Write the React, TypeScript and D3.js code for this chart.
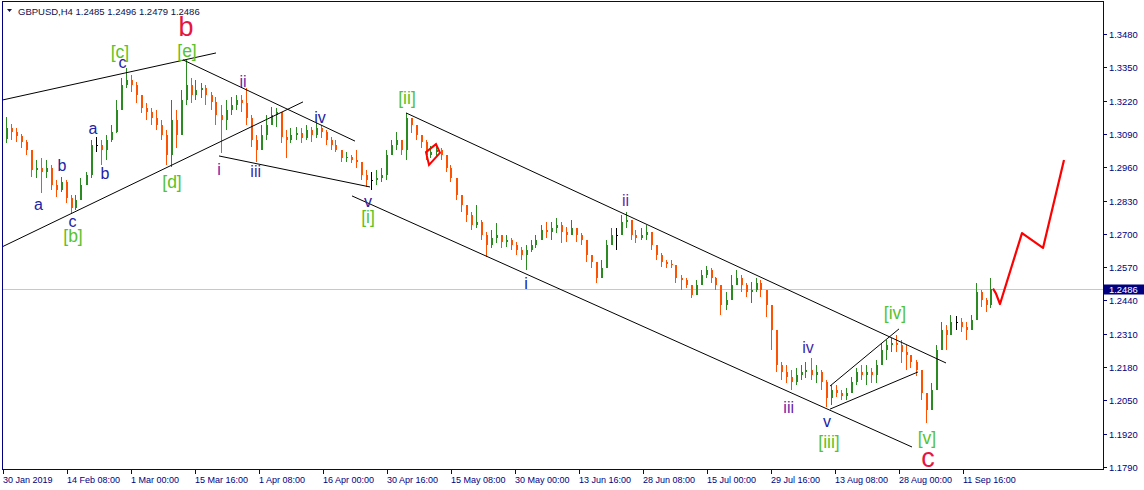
import React from 'react';
import * as d3 from 'd3';

// ---------- data (GBPUSD, H4, aggregated 5 bars per candle) ----------
const CLOSE = [
  1.3113, 1.3098, 1.3082, 1.3059, 1.3027, 1.2949, 1.2957, 1.2941, 1.2957, 1.2891,
  1.2871, 1.2902, 1.2840, 1.2801, 1.2832, 1.2891, 1.2930, 1.3047, 1.3047, 1.3027,
  1.3066, 1.3098, 1.3183, 1.3281, 1.3300, 1.3281, 1.3242, 1.3191, 1.3176, 1.3152,
  1.3125, 1.3086, 1.3008, 1.3144, 1.3086, 1.3222, 1.3281, 1.3242, 1.3261, 1.3269,
  1.3242, 1.3215, 1.3164, 1.3144, 1.3183, 1.3203, 1.3222, 1.3211, 1.3152, 1.3066,
  1.3027, 1.3086, 1.3125, 1.3164, 1.3176, 1.3078, 1.3066, 1.3086, 1.3094, 1.3074,
  1.3105, 1.3086, 1.3113, 1.3098, 1.3066, 1.3047, 1.3027, 1.2996, 1.3000, 1.2988,
  1.2980, 1.2930, 1.2910, 1.2910, 1.2918, 1.2930, 1.3008, 1.3047, 1.3066, 1.3027,
  1.3152, 1.3125, 1.3086, 1.3059, 1.3008, 1.3019, 1.3027, 1.3008, 1.2957, 1.2918,
  1.2852, 1.2813, 1.2774, 1.2735, 1.2746, 1.2696, 1.2657, 1.2684, 1.2696, 1.2668,
  1.2676, 1.2657, 1.2637, 1.2618, 1.2637, 1.2657, 1.2676, 1.2715, 1.2707, 1.2723,
  1.2735, 1.2707, 1.2696, 1.2723, 1.2696, 1.2676, 1.2618, 1.2590, 1.2528, 1.2567,
  1.2657, 1.2696, 1.2696, 1.2746, 1.2754, 1.2696, 1.2684, 1.2696, 1.2707, 1.2657,
  1.2618, 1.2590, 1.2582, 1.2578, 1.2528, 1.2520, 1.2500, 1.2461, 1.2500, 1.2539,
  1.2559, 1.2528, 1.2500, 1.2422, 1.2442, 1.2500, 1.2528, 1.2500, 1.2473, 1.2481,
  1.2508, 1.2481, 1.2422, 1.2325, 1.2188, 1.2161, 1.2141, 1.2122, 1.2149, 1.2161,
  1.2169, 1.2149, 1.2161, 1.2122, 1.2059, 1.2091, 1.2079, 1.2067, 1.2079, 1.2122,
  1.2161, 1.2149, 1.2161, 1.2149, 1.2188, 1.2247, 1.2266, 1.2274, 1.2266, 1.2239,
  1.2227, 1.2200, 1.2169, 1.2079, 1.2013, 1.2091, 1.2247, 1.2325, 1.2305, 1.2356,
  1.2356, 1.2336, 1.2325, 1.2364, 1.2473, 1.2442, 1.2422, 1.2486,
];
const HIGH = [
  1.3156, 1.3129, 1.3113, 1.3090, 1.3066, 1.3027, 1.2988, 1.2996, 1.2988, 1.2969,
  1.2910, 1.2922, 1.2910, 1.2852, 1.2852, 1.2918, 1.2941, 1.3066, 1.3078, 1.3066,
  1.3086, 1.3125, 1.3222, 1.3308, 1.3347, 1.3320, 1.3293, 1.3242, 1.3211, 1.3191,
  1.3183, 1.3144, 1.3105, 1.3222, 1.3183, 1.3261, 1.3379, 1.3308, 1.3300, 1.3289,
  1.3281, 1.3254, 1.3234, 1.3203, 1.3222, 1.3234, 1.3242, 1.3242, 1.3269, 1.3164,
  1.3086, 1.3125, 1.3164, 1.3195, 1.3191, 1.3125, 1.3105, 1.3113, 1.3117, 1.3113,
  1.3125, 1.3117, 1.3137, 1.3125, 1.3105, 1.3078, 1.3066, 1.3019, 1.3019, 1.3008,
  1.3027, 1.2977, 1.2949, 1.2941, 1.2949, 1.2957, 1.3027, 1.3066, 1.3098, 1.3066,
  1.3172, 1.3152, 1.3125, 1.3086, 1.3066, 1.3043, 1.3047, 1.3035, 1.3008, 1.2969,
  1.2918, 1.2852, 1.2813, 1.2785, 1.2813, 1.2754, 1.2707, 1.2715, 1.2742, 1.2696,
  1.2696, 1.2684, 1.2668, 1.2649, 1.2657, 1.2676, 1.2696, 1.2735, 1.2746, 1.2746,
  1.2762, 1.2746, 1.2727, 1.2754, 1.2715, 1.2703, 1.2676, 1.2618, 1.2578, 1.2598,
  1.2676, 1.2723, 1.2723, 1.2774, 1.2785, 1.2746, 1.2715, 1.2723, 1.2735, 1.2696,
  1.2657, 1.2625, 1.2598, 1.2598, 1.2578, 1.2539, 1.2528, 1.2500, 1.2520, 1.2559,
  1.2575, 1.2567, 1.2532, 1.2500, 1.2473, 1.2539, 1.2559, 1.2539, 1.2508, 1.2512,
  1.2528, 1.2520, 1.2461, 1.2383, 1.2247, 1.2200, 1.2188, 1.2169, 1.2176, 1.2188,
  1.2200, 1.2215, 1.2188, 1.2169, 1.2130, 1.2110, 1.2110, 1.2091, 1.2098, 1.2141,
  1.2176, 1.2188, 1.2188, 1.2176, 1.2208, 1.2274, 1.2286, 1.2293, 1.2305, 1.2286,
  1.2266, 1.2227, 1.2208, 1.2169, 1.2071, 1.2118, 1.2266, 1.2356, 1.2344, 1.2383,
  1.2379, 1.2372, 1.2356, 1.2383, 1.2508, 1.2481, 1.2450, 1.2528,
];
const LOW = [
  1.3055, 1.3066, 1.3059, 1.3035, 1.3008, 1.2922, 1.2918, 1.2859, 1.2918, 1.2871,
  1.2844, 1.2863, 1.2820, 1.2778, 1.2793, 1.2832, 1.2891, 1.2918, 1.3019, 1.2969,
  1.2988, 1.3059, 1.3095, 1.3183, 1.3269, 1.3254, 1.3211, 1.3172, 1.3144, 1.3125,
  1.3105, 1.3066, 1.2969, 1.2961, 1.3035, 1.3086, 1.3203, 1.3211, 1.3222, 1.3230,
  1.3203, 1.3183, 1.3125, 1.3016, 1.3105, 1.3164, 1.3183, 1.3176, 1.3125, 1.3039,
  1.2980, 1.3035, 1.3066, 1.3125, 1.3117, 1.3055, 1.2996, 1.3055, 1.3066, 1.3055,
  1.3066, 1.3059, 1.3074, 1.3074, 1.3047, 1.3027, 1.3019, 1.2980, 1.2980, 1.2977,
  1.2957, 1.2910, 1.2883, 1.2871, 1.2891, 1.2902, 1.2910, 1.3008, 1.3027, 1.3008,
  1.2988, 1.3094, 1.3066, 1.3035, 1.2988, 1.2996, 1.3004, 1.2988, 1.2941, 1.2902,
  1.2832, 1.2785, 1.2746, 1.2715, 1.2723, 1.2676, 1.2610, 1.2645, 1.2664, 1.2645,
  1.2649, 1.2637, 1.2618, 1.2598, 1.2559, 1.2629, 1.2645, 1.2676, 1.2684, 1.2676,
  1.2703, 1.2664, 1.2668, 1.2696, 1.2668, 1.2657, 1.2590, 1.2567, 1.2508, 1.2539,
  1.2590, 1.2664, 1.2637, 1.2696, 1.2723, 1.2676, 1.2664, 1.2676, 1.2676, 1.2637,
  1.2598, 1.2571, 1.2567, 1.2567, 1.2508, 1.2481, 1.2489, 1.2450, 1.2473, 1.2500,
  1.2528, 1.2508, 1.2481, 1.2383, 1.2403, 1.2442, 1.2500, 1.2473, 1.2454, 1.2430,
  1.2473, 1.2454, 1.2376, 1.2247, 1.2161, 1.2130, 1.2118, 1.2091, 1.2110, 1.2130,
  1.2137, 1.2130, 1.2118, 1.2091, 1.2024, 1.2032, 1.2063, 1.2052, 1.2052, 1.2091,
  1.2110, 1.2130, 1.2110, 1.2118, 1.2118, 1.2208, 1.2208, 1.2239, 1.2239, 1.2196,
  1.2169, 1.2176, 1.2145, 1.2052, 1.1962, 1.2052, 1.2091, 1.2266, 1.2247, 1.2305,
  1.2325, 1.2317, 1.2286, 1.2333, 1.2364, 1.2415, 1.2395, 1.2411,
];
const FIRST_OPEN = 1.3070;
const BARS_PER_CANDLE = 5;

const PRICE_TICKS = [1.3480, 1.3350, 1.3220, 1.3090, 1.2960, 1.2830, 1.2700, 1.2570, 1.2440, 1.2310, 1.2180, 1.2050, 1.1920, 1.1790];
const DATE_LABELS = ['30 Jan 2019', '14 Feb 08:00', '1 Mar 00:00', '15 Mar 16:00', '1 Apr 08:00', '16 Apr 00:00', '30 Apr 16:00', '15 May 08:00', '30 May 00:00', '13 Jun 16:00', '28 Jun 08:00', '15 Jul 00:00', '29 Jul 16:00', '13 Aug 08:00', '28 Aug 00:00', '11 Sep 16:00'];
const DATE_STEP_BARS = 64;
const LAST_PRICE = 1.2486;
const HEADER = 'GBPUSD,H4  1.2485 1.2496 1.2479 1.2486';

// trend lines: [bar1, price1, bar2, price2]
const TREND_LINES: number[][] = [
  [-1, 1.3222, 213, 1.3406],
  [-1, 1.2649, 300, 1.3215],
  [180, 1.3379, 352, 1.3062],
  [216, 1.3004, 367, 1.2883],
  [349, 1.2848, 909, 1.1868],
  [403, 1.3172, 943, 1.2196],
  [827, 1.2106, 896, 1.2329],
  [827, 1.2016, 915, 1.2161],
];
const PROJECTION_BARS = [990, 993, 997, 1019, 1040, 1061];
const PROJECTION_PRICES = [1.2486, 1.2467, 1.2426, 1.2703, 1.2645, 1.2988];
const MARK_BARS = [423, 433, 437, 426];
const MARK_PRICES = [1.3019, 1.3050, 1.3016, 1.2969];

// wave labels (bar, price at text baseline)
const MAJOR_LABELS = [
  { text: 'b', bar: 183, price: 1.3472 },
  { text: 'c', bar: 925, price: 1.1790 },
];
const INTERMEDIATE_LABELS = [
  { text: '[b]', bar: 70, price: 1.2670 },
  { text: '[c]', bar: 117, price: 1.3386 },
  { text: '[d]', bar: 169, price: 1.2877 },
  { text: '[e]', bar: 184, price: 1.3392 },
  { text: '[i]', bar: 365, price: 1.2744 },
  { text: '[ii]', bar: 404, price: 1.3205 },
  { text: '[iii]', bar: 826, price: 1.1864 },
  { text: '[iv]', bar: 892, price: 1.2368 },
  { text: '[v]', bar: 924, price: 1.1880 },
];
const MINOR_LABELS = [
  { text: 'a', bar: 35.5, price: 1.2793, tone: 'blue' },
  { text: 'b', bar: 59, price: 1.2946, tone: 'blue' },
  { text: 'c', bar: 69.5, price: 1.2727, tone: 'blue' },
  { text: 'a', bar: 90, price: 1.3090, tone: 'blue' },
  { text: 'b', bar: 102, price: 1.2914, tone: 'blue' },
  { text: 'c', bar: 119.5, price: 1.3347, tone: 'blue' },
  { text: 'i', bar: 216, price: 1.2930, tone: 'purple' },
  { text: 'ii', bar: 240, price: 1.3273, tone: 'purple' },
  { text: 'iii', bar: 252.7, price: 1.2922, tone: 'indigo' },
  { text: 'iv', bar: 317, price: 1.3133, tone: 'blue' },
  { text: 'v', bar: 365, price: 1.2805, tone: 'blue' },
  { text: 'i', bar: 523, price: 1.2485, tone: 'blue' },
  { text: 'ii', bar: 622.5, price: 1.2809, tone: 'purple' },
  { text: 'iii', bar: 785.7, price: 1.2001, tone: 'purple' },
  { text: 'iv', bar: 805, price: 1.2235, tone: 'indigo' },
  { text: 'v', bar: 824, price: 1.1946, tone: 'blue' },
];

const TONES: Record<string, string> = { blue: '#2222a6', purple: '#6a26a8', indigo: '#3d2aa8' };
const UP = '#2b8a22';
const DOWN = '#ff5200';
const AXIS = '#000080';
const FONT = "'Liberation Sans', Arial, sans-serif";

export default function App() {
  const x = d3.scaleLinear().domain([0, 1100]).range([3, 1103]);
  const y = d3.scaleLinear().domain([1.1790, 1.3480]).range([467, 34]);

  const candles = CLOSE.map((c, i) => {
    const o = i === 0 ? FIRST_OPEN : CLOSE[i - 1];
    return { i, o, c, h: Math.max(HIGH[i], o, c), l: Math.min(LOW[i], o, c) };
  });

  const line = d3.line<[number, number]>().x(d => x(d[0])).y(d => y(d[1]));
  const projection = line(PROJECTION_BARS.map((b, k) => [b, PROJECTION_PRICES[k]] as [number, number])) || '';
  const mark = (line(MARK_BARS.map((b, k) => [b, MARK_PRICES[k]] as [number, number])) || '') + 'Z';
  const lastY = y(LAST_PRICE);

  return (
    <div style={{ position: 'fixed', left: 0, top: 0, width: 1144, height: 490, background: '#fff' }}>
      <svg width={1144} height={490} style={{ display: 'block' }} fontFamily={FONT}>
        <defs>
          <clipPath id="plot">
            <rect x={2} y={1} width={1101} height={468} />
          </clipPath>
        </defs>
        <rect width={1144} height={490} fill="#fff" />

        {/* current price line */}
        <line x1={2} x2={1103} y1={Math.round(lastY) + 0.5} y2={Math.round(lastY) + 0.5} stroke="#c8c8c8" strokeWidth={1} shapeRendering="crispEdges" />

        <g clipPath="url(#plot)">
          {/* candles */}
          {candles.map(d => {
            const cx = Math.round(x(d.i * BARS_PER_CANDLE + BARS_PER_CANDLE / 2));
            const col = d.c > d.o ? UP : d.c < d.o ? DOWN : '#000';
            const top = y(Math.max(d.o, d.c));
            const bot = y(Math.min(d.o, d.c));
            return (
              <g key={d.i} shapeRendering="crispEdges">
                <line x1={cx + 0.5} x2={cx + 0.5} y1={y(d.h)} y2={y(d.l)} stroke={col} strokeWidth={1} />
                <rect x={cx} y={top} width={2} height={Math.max(1, bot - top)} fill={col} />
              </g>
            );
          })}

          {/* trend lines */}
          {TREND_LINES.map((t, k) => (
            <line key={k} x1={x(t[0])} y1={y(t[1])} x2={x(t[2])} y2={y(t[3])} stroke="#000" strokeWidth={1} />
          ))}

          {/* small red mark */}
          <path d={mark} fill="none" stroke="#ff0000" strokeWidth={2} />

          {/* projection */}
          <path d={projection} fill="none" stroke="#ff0000" strokeWidth={2.2} strokeLinejoin="round" />
        </g>

        {/* wave labels */}
        {MINOR_LABELS.map((l, k) => (
          <text key={'m' + k} x={x(l.bar)} y={y(l.price)} textAnchor="middle" fontSize={16} fill={TONES[l.tone]}>{l.text}</text>
        ))}
        {INTERMEDIATE_LABELS.map((l, k) => (
          <text key={'n' + k} x={x(l.bar)} y={y(l.price)} textAnchor="middle" fontSize={17.5} fill="#58c22c">{l.text}</text>
        ))}
        {MAJOR_LABELS.map((l, k) => (
          <text key={'M' + k} x={x(l.bar)} y={y(l.price)} textAnchor="middle" fontSize={27} fill="#e5173f">{l.text}</text>
        ))}

        {/* frame */}
        <rect x={2.5} y={1.5} width={1101} height={468} fill="none" stroke={AXIS} strokeWidth={1} shapeRendering="crispEdges" />

        {/* header */}
        <path d="M7,9 L12,9 L9.5,12 Z" fill="#10104a" />
        <text x={18} y={15} fontSize={9.5} fill="#10104a">{HEADER}</text>

        {/* price axis */}
        {PRICE_TICKS.map(p => {
          const ty = Math.round(y(p)) + 0.5;
          return (
            <g key={p}>
              <line x1={1103} x2={1107} y1={ty} y2={ty} stroke={AXIS} shapeRendering="crispEdges" />
              <text x={1109} y={ty + 3.4} fontSize={9.4} fill={AXIS}>{p.toFixed(4)}</text>
            </g>
          );
        })}
        <rect x={1104} y={Math.round(lastY) - 4.5} width={40} height={10} fill={AXIS} />
        <text x={1109} y={Math.round(lastY) + 4} fontSize={9.4} fill="#fff">{LAST_PRICE.toFixed(4)}</text>

        {/* time axis */}
        {DATE_LABELS.map((lab, k) => {
          const tx = Math.round(x(k * DATE_STEP_BARS)) + 0.5;
          return (
            <g key={lab}>
              <line x1={tx} x2={tx} y1={469.5} y2={474} stroke={AXIS} shapeRendering="crispEdges" />
              <text x={tx - 0.5} y={483} fontSize={9} fill={AXIS}>{lab}</text>
            </g>
          );
        })}
      </svg>
    </div>
  );
}
